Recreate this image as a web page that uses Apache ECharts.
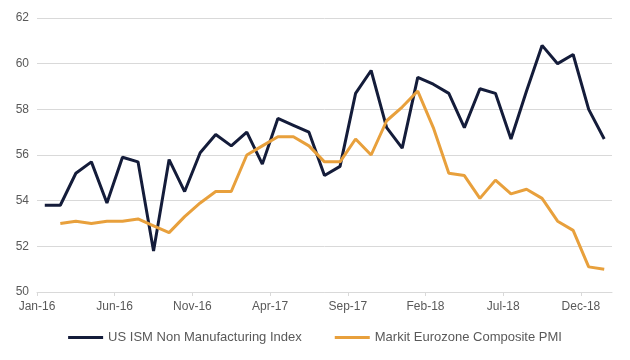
<!DOCTYPE html>
<html>
<head>
<meta charset="utf-8">
<script src="https://cdn.jsdelivr.net/npm/echarts@6/dist/echarts.min.js"></script>
<style>html,body{margin:0;padding:0;background:#fff}#c{width:630px;height:360px}</style>
</head>
<body>
<div id="c"></div>
<script>
var categories = ['Jan-16','Feb-16','Mar-16','Apr-16','May-16','Jun-16','Jul-16','Aug-16','Sep-16','Oct-16','Nov-16','Dec-16',
  'Jan-17','Feb-17','Mar-17','Apr-17','May-17','Jun-17','Jul-17','Aug-17','Sep-17','Oct-17','Nov-17','Dec-17',
  'Jan-18','Feb-18','Mar-18','Apr-18','May-18','Jun-18','Jul-18','Aug-18','Sep-18','Oct-18','Nov-18','Dec-18','Jan-19'];
var usIsm = [53.8,53.8,55.2,55.7,53.9,55.9,55.7,51.8,55.8,54.4,56.1,56.9,
  56.4,57.0,55.6,57.6,57.3,57.0,55.1,55.5,58.7,59.7,57.2,56.3,
  59.4,59.1,58.7,57.2,58.9,58.7,56.7,58.8,60.8,60.0,60.4,58.0,56.7];
var euroPmi = [null,53.0,53.1,53.0,53.1,53.1,53.2,52.9,52.6,53.3,53.9,54.4,
  54.4,56.0,56.4,56.8,56.8,56.4,55.7,55.7,56.7,56.0,57.5,58.1,
  58.8,57.2,55.2,55.1,54.1,54.9,54.3,54.5,54.1,53.1,52.7,51.1,51.0];
var yTicks = [50,52,54,56,58,60,62];
var labelIdx = [0,5,10,15,20,25,30,35];

function toPts(arr){ return arr.map(function(v,i){ return [i+0.5, v]; }); }

var chart = echarts.init(document.getElementById('c'));
var font = '"Liberation Sans", Arial, sans-serif';
chart.setOption({
  animation:false,
  grid:{left:37,right:18,top:18,bottom:68,containLabel:false},
  xAxis:{type:'value',min:0,max:categories.length,
    axisLine:{show:true,lineStyle:{color:'#d9d9d9',width:1}},
    axisTick:{show:true,length:4,lineStyle:{color:'#d9d9d9'},customValues:labelIdx},
    axisLabel:{customValues:labelIdx,formatter:function(v){return categories[Math.round(v)];},
      color:'#595959',fontFamily:font,fontSize:12,margin:9},
    splitLine:{show:false}},
  yAxis:{type:'value',min:yTicks[0],max:yTicks[yTicks.length-1],interval:2,
    axisLine:{show:false},axisTick:{show:false},
    axisLabel:{color:'#595959',fontFamily:font,fontSize:12,margin:8},
    splitLine:{lineStyle:{color:'#d9d9d9',width:1}}},
  legend:{bottom:11,left:'center',itemWidth:35,itemHeight:3,itemGap:33,icon:'rect',
    textStyle:{color:'#595959',fontFamily:font,fontSize:13},
    data:['US ISM Non Manufacturing Index','Markit Eurozone Composite PMI']},
  series:[
    {name:'US ISM Non Manufacturing Index',type:'line',data:toPts(usIsm),showSymbol:false,symbol:'none',
      lineStyle:{color:'#141c3a',width:3},itemStyle:{color:'#141c3a'}},
    {name:'Markit Eurozone Composite PMI',type:'line',data:toPts(euroPmi),showSymbol:false,symbol:'none',
      lineStyle:{color:'#e8a03c',width:3},itemStyle:{color:'#e8a03c'}}
  ]
});
</script>
</body>
</html>
